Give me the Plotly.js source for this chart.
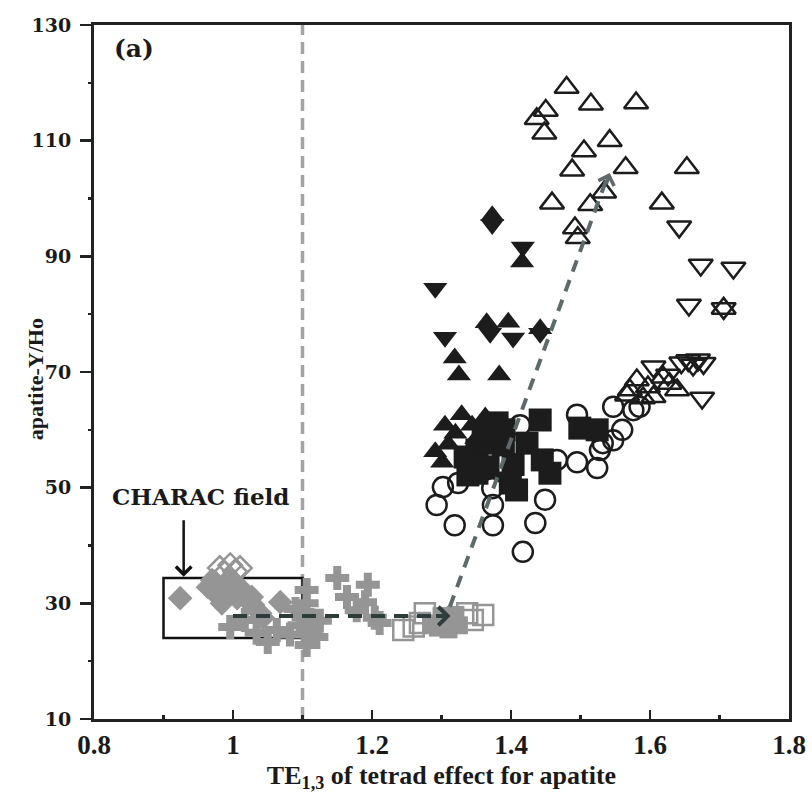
<!DOCTYPE html>
<html>
<head>
<meta charset="utf-8">
<script src="https://cdn.plot.ly/plotly-3.0.1.min.js"></script>
<style>html,body{margin:0;padding:0;background:#fff;}#chart{width:812px;height:793px;}</style>
</head>
<body>
<div id="chart"></div>
<script>
// ---- data ----
const grayDiamondX = [0.924, 0.964, 0.974, 0.977, 0.984, 0.991, 0.996, 1.006, 1.02, 1.027, 1.039, 1.029, 1.043, 1.068, 0.97, 1.0, 1.012];
const grayDiamondY = [30.9, 32.8, 33.7, 31.4, 30.0, 32.0, 34.4, 30.9, 30.6, 31.1, 28.3, 29.7, 27.5, 30.2, 34.0, 33.0, 32.5];

const openDiamondX = [0.981, 0.996, 1.01, 0.988, 1.003];
const openDiamondY = [36.1, 36.6, 36.1, 35.2, 35.5];

const crossX = [1.15, 1.194, 1.164, 1.19, 1.204, 1.211, 1.178, 1.106, 1.114, 1.115, 1.106, 0.996, 1.034, 1.05, 1.096, 1.12, 1.082, 1.063, 1.017, 1.106, 1.1, 1.09, 1.125, 1.11];
const crossY = [34.4, 33.2, 31.1, 30.2, 27.5, 26.6, 28.8, 30.0, 27.0, 24.2, 22.8, 25.9, 24.9, 23.3, 26.2, 24.2, 24.6, 25.4, 27.1, 32.3, 28.5, 29.0, 27.0, 25.5];

const openSquareX = [1.245, 1.269, 1.276, 1.337, 1.36, 1.345, 1.26];
const openSquareY = [25.4, 26.6, 28.3, 28.3, 28.0, 27.1, 26.0];

const graySquareX = [1.285, 1.295, 1.305, 1.315, 1.325, 1.30, 1.31, 1.32];
const graySquareY = [26.5, 25.8, 26.5, 27.2, 26.2, 27.8, 25.5, 28.0];

const blackUpX = [1.373, 1.416, 1.365, 1.396, 1.442, 1.319, 1.325, 1.383, 1.329, 1.363, 1.305, 1.291, 1.301, 1.344, 1.32, 1.31, 1.35];
const blackUpY = [97.0, 89.0, 78.5, 78.6, 77.5, 72.4, 69.5, 69.5, 62.6, 62.2, 60.8, 56.2, 54.4, 60.8, 59.4, 57.5, 58.5];

const blackDownX = [1.373, 1.417, 1.291, 1.305, 1.370, 1.403, 1.442];
const blackDownY = [95.5, 91.6, 84.5, 76.0, 76.7, 75.9, 76.7];

const blackSquareX = [1.442, 1.499, 1.524, 1.380, 1.351, 1.338, 1.367, 1.403, 1.408, 1.456, 1.423, 1.389, 1.399, 1.445, 1.37, 1.334, 1.351, 1.36, 1.39];
const blackSquareY = [61.7, 60.3, 60.0, 61.2, 56.5, 52.2, 53.6, 54.0, 49.6, 52.5, 57.7, 57.4, 50.8, 54.8, 57.7, 55.3, 52.5, 59.5, 60.0];

const circleX = [1.302, 1.324, 1.293, 1.319, 1.373, 1.374, 1.374, 1.417, 1.435, 1.449, 1.413, 1.466, 1.495, 1.524, 1.547, 1.576, 1.560, 1.547, 1.532, 1.528, 1.585, 1.495];
const circleY = [50.1, 50.8, 47.0, 43.5, 49.9, 47.0, 43.5, 38.9, 43.9, 47.9, 60.8, 54.8, 54.4, 53.4, 64.0, 63.4, 60.0, 58.2, 57.7, 56.5, 64.0, 62.6];

const openUpX = [1.48, 1.515, 1.58, 1.437, 1.45, 1.448, 1.505, 1.542, 1.488, 1.565, 1.653, 1.459, 1.514, 1.534, 1.617, 1.492, 1.496, 1.706, 1.581, 1.597, 1.571, 1.567, 1.639, 1.619, 1.605, 1.59, 1.628];
const openUpY = [119.2, 116.3, 116.5, 113.8, 115.2, 111.3, 108.2, 110.0, 104.9, 105.3, 105.3, 99.2, 98.9, 101.1, 99.2, 94.9, 93.2, 81.0, 68.6, 67.4, 66.9, 66.0, 66.9, 69.1, 65.7, 65.5, 68.0];

const openDownX = [1.642, 1.673, 1.72, 1.656, 1.706, 1.675, 1.605, 1.645, 1.655, 1.662, 1.669, 1.677, 1.626];
const openDownY = [95.1, 88.5, 88.0, 81.6, 81.0, 65.5, 70.9, 71.6, 72.0, 71.2, 72.1, 71.5, 69.5];

// reference lines / field
const fieldBox = [0.9, 1.1, 24.0, 34.4];       // x0, x1, y0, y1
const thresholdX = 1.1;
const hArrowX = [1.0, 1.300];  const hArrowY = [27.8, 27.8];
const dArrowX = [1.312, 1.538]; const dArrowY = [29.4, 103.5];
const xTicks = [0.8, 1, 1.2, 1.4, 1.6, 1.8];
const yTicks = [10, 30, 50, 70, 90, 110, 130];

// ---- styles ----
const GRAY = '#959595';
const BLACK = '#1c1c1c';
const SERIF = "'Liberation Serif', 'Times New Roman', serif";
const WIDE = "'DejaVu Serif', serif";

function tr(x, y, symbol, size, color, lineColor, lineWidth) {
  return {
    type: 'scatter', mode: 'markers', x: x, y: y, hoverinfo: 'skip', showlegend: false,
    marker: { symbol: symbol, size: size, color: color, line: { color: lineColor, width: lineWidth } }
  };
}

const traces = [
  tr(crossX, crossY, 'cross', 20, GRAY, GRAY, 0),
  tr(grayDiamondX, grayDiamondY, 'diamond', 19, GRAY, GRAY, 0),
  tr(openDiamondX, openDiamondY, 'diamond-open', 18, GRAY, GRAY, 2.5),
  tr(openSquareX, openSquareY, 'square-open', 20, GRAY, GRAY, 2.5),
  tr(graySquareX, graySquareY, 'square', 18, GRAY, GRAY, 0),
  tr(circleX, circleY, 'circle-open', 20, BLACK, BLACK, 2.5),
  tr(blackSquareX, blackSquareY, 'square', 23, BLACK, BLACK, 0),
  tr(blackUpX, blackUpY, 'triangle-up', 21, BLACK, BLACK, 0),
  tr(blackDownX, blackDownY, 'triangle-down', 21, BLACK, BLACK, 0),
  tr(openUpX, openUpY, 'triangle-up-open', 21, BLACK, BLACK, 2.5),
  tr(openDownX, openDownY, 'triangle-down-open', 21, BLACK, BLACK, 2.5)
];

const layout = {
  width: 812, height: 793,
  margin: { l: 94, r: 23, t: 25, b: 74 },
  paper_bgcolor: '#ffffff', plot_bgcolor: '#ffffff',
  showlegend: false,
  font: { family: SERIF, color: '#1a1a1a' },
  xaxis: {
    range: [0.8, 1.8], tickvals: xTicks, ticktext: xTicks.map(v => '<b>' + v + '</b>'),
    ticks: 'inside', ticklen: 9, tickwidth: 2.5, tickcolor: '#222',
    minor: { dtick: 0.1, ticks: 'inside', ticklen: 4, tickwidth: 2.5, tickcolor: '#222' },
    showline: true, linewidth: 3, linecolor: '#222', mirror: true,
    showgrid: false, zeroline: false,
    tickfont: { family: SERIF, size: 27, color: '#1a1a1a' },
    title: { text: '<b>TE<sub>1,3</sub> of tetrad effect for apatite</b>', standoff: 9,
             font: { family: SERIF, size: 26, color: '#1a1a1a' } }
  },
  yaxis: {
    range: [10, 130], tickvals: yTicks, ticktext: yTicks.map(v => '<b>' + v + '</b>'),
    ticks: 'outside', ticklen: 11, tickwidth: 2.5, tickcolor: '#222',
    minor: { dtick: 10, ticks: 'outside', ticklen: 3, tickwidth: 2.5, tickcolor: '#222' },
    showline: true, linewidth: 3, linecolor: '#222', mirror: true,
    showgrid: false, zeroline: false, ticklabelstandoff: 5,
    tickfont: { family: WIDE, size: 19, color: '#1a1a1a' }
  },
  shapes: [
    { type: 'rect', xref: 'x', yref: 'y', x0: fieldBox[0], x1: fieldBox[1], y0: fieldBox[2], y1: fieldBox[3],
      line: { color: '#111', width: 2.5 }, layer: 'below' },
    { type: 'line', xref: 'x', yref: 'paper', x0: thresholdX, x1: thresholdX, y0: 0, y1: 1,
      line: { color: '#a3a3a3', width: 3.5, dash: '12px,7px' }, layer: 'below' },
    { type: 'line', xref: 'x', yref: 'y', x0: hArrowX[0], x1: hArrowX[1], y0: hArrowY[0], y1: hArrowY[1],
      line: { color: '#2f3c3c', width: 4, dash: '14px,9px' }, layer: 'above' },
    { type: 'line', xref: 'x', yref: 'y', x0: dArrowX[0], x1: dArrowX[1], y0: dArrowY[0], y1: dArrowY[1],
      line: { color: '#5e6a6a', width: 4, dash: '12px,9px' }, layer: 'above' }
  ],
  annotations: [
    { xref: 'paper', yref: 'paper', x: -0.083, y: 0.49, xanchor: 'center', yanchor: 'middle',
      textangle: -90, text: '<b>apatite-Y/Ho</b>', showarrow: false,
      font: { family: SERIF, size: 22, color: '#1a1a1a' } },
    { xref: 'x', yref: 'y', x: 0.857, y: 126.0, text: '<b>(a)</b>', showarrow: false,
      font: { family: WIDE, size: 25, color: '#1a1a1a' } },
    { xref: 'x', yref: 'y', x: 0.953, y: 48.4, text: '<b>CHARAC field</b>', showarrow: false,
      font: { family: WIDE, size: 23, color: '#1a1a1a' } },
    { xref: 'x', yref: 'y', x: 0.929, y: 34.6, text: '', showarrow: true,
      ax: 0, ay: -58, arrowhead: 4, arrowsize: 1.2, arrowwidth: 2.5, arrowcolor: '#111' },
    { xref: 'x', yref: 'y', x: 1.313, y: 27.8, text: '', showarrow: true,
      ax: -16, ay: 0, arrowhead: 4, arrowsize: 0.9, arrowwidth: 4, arrowcolor: '#2f3c3c' },
    { xref: 'x', yref: 'y', x: dArrowX[1] + 0.004, y: dArrowY[1] + 0.9, text: '', showarrow: true,
      ax: -4, ay: 12, arrowhead: 4, arrowsize: 0.8, arrowwidth: 4, arrowcolor: '#5e6a6a' }
  ]
};

Plotly.newPlot('chart', traces, layout, { staticPlot: true, displayModeBar: false });
</script>
</body>
</html>
